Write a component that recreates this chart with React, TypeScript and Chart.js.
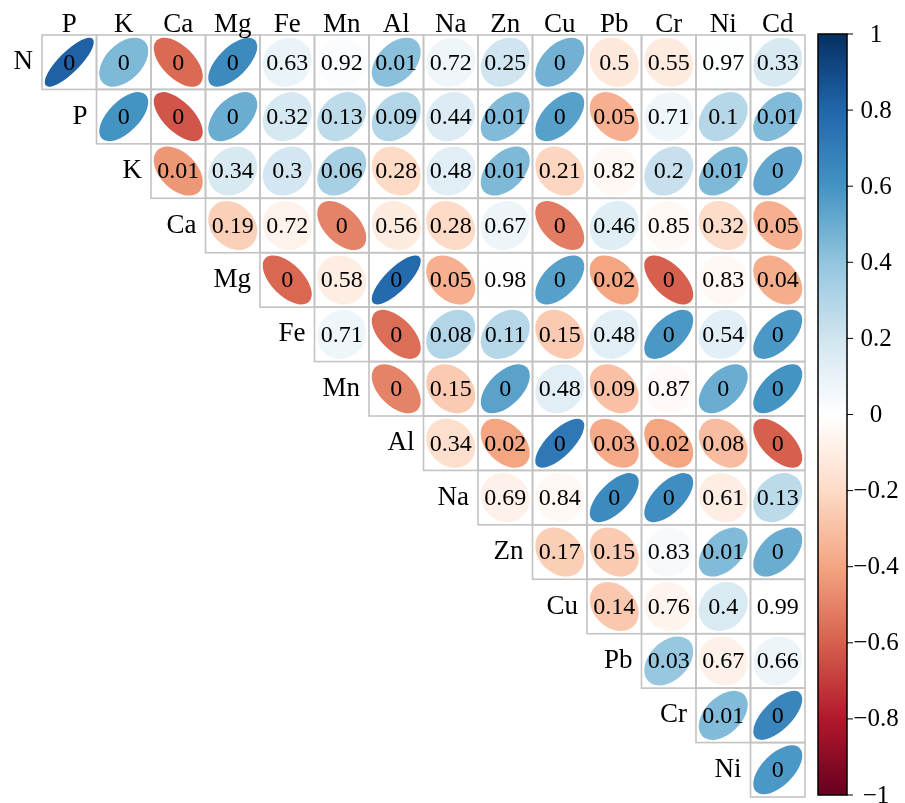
import React, { useEffect, useRef } from "react";
import { Chart, registerables } from "chart.js";

Chart.register(...registerables);

const rowLabels = ["N", "P", "K", "Ca", "Mg", "Fe", "Mn", "Al", "Na", "Zn", "Cu", "Pb", "Cr", "Ni"];
const colLabels = ["P", "K", "Ca", "Mg", "Fe", "Mn", "Al", "Na", "Zn", "Cu", "Pb", "Cr", "Ni", "Cd"];

// correlation coefficients per row; row i starts at column i
const corrN = [0.82, 0.45, -0.57, 0.64, 0.09, 0.02, 0.42, 0.07, 0.2, 0.48, -0.13, -0.11, 0.01, 0.17];
const corrP = [0.6, -0.63, 0.5, 0.18, 0.26, 0.3, 0.15, 0.44, 0.55, -0.36, 0.07, 0.29, 0.44];
const corrK = [-0.44, 0.17, 0.19, 0.33, -0.2, 0.13, 0.45, -0.22, -0.04, 0.23, 0.45, 0.52];
const corrCa = [-0.24, -0.07, -0.5, -0.11, -0.2, 0.08, -0.52, 0.14, -0.04, -0.19, -0.36];
const corrMg = [-0.58, -0.1, 0.78, -0.36, 0.004, 0.55, -0.4, -0.6, -0.04, -0.37];
const corrFe = [0.07, -0.56, 0.3, 0.29, -0.26, 0.13, 0.58, 0.12, 0.58];
const corrMn = [-0.5, -0.26, 0.54, 0.13, -0.3, -0.03, 0.5, 0.6];
const corrAl = [-0.18, -0.4, 0.72, -0.38, -0.4, -0.31, -0.6];
const corrNa = [-0.08, -0.04, 0.64, 0.62, -0.1, 0.27];
const corrZn = [-0.25, -0.26, 0.04, 0.44, 0.5];
const corrCu = [-0.27, -0.06, 0.16, 0.002];
const corrPb = [0.38, -0.08, 0.08];
const corrCr = [0.44, 0.66];
const corrNi = [0.58];

// p-value labels per row
const pN = ["0", "0", "0", "0", "0.63", "0.92", "0.01", "0.72", "0.25", "0", "0.5", "0.55", "0.97", "0.33"];
const pP = ["0", "0", "0", "0.32", "0.13", "0.09", "0.44", "0.01", "0", "0.05", "0.71", "0.1", "0.01"];
const pK = ["0.01", "0.34", "0.3", "0.06", "0.28", "0.48", "0.01", "0.21", "0.82", "0.2", "0.01", "0"];
const pCa = ["0.19", "0.72", "0", "0.56", "0.28", "0.67", "0", "0.46", "0.85", "0.32", "0.05"];
const pMg = ["0", "0.58", "0", "0.05", "0.98", "0", "0.02", "0", "0.83", "0.04"];
const pFe = ["0.71", "0", "0.08", "0.11", "0.15", "0.48", "0", "0.54", "0"];
const pMn = ["0", "0.15", "0", "0.48", "0.09", "0.87", "0", "0"];
const pAl = ["0.34", "0.02", "0", "0.03", "0.02", "0.08", "0"];
const pNa = ["0.69", "0.84", "0", "0", "0.61", "0.13"];
const pZn = ["0.17", "0.15", "0.83", "0.01", "0"];
const pCu = ["0.14", "0.76", "0.4", "0.99"];
const pPb = ["0.03", "0.67", "0.66"];
const pCr = ["0.01", "0"];
const pNi = ["0"];

const corrRows = [corrN, corrP, corrK, corrCa, corrMg, corrFe, corrMn, corrAl, corrNa, corrZn, corrCu, corrPb, corrCr, corrNi];
const pRows = [pN, pP, pK, pCa, pMg, pFe, pMn, pAl, pNa, pZn, pCu, pPb, pCr, pNi];

const colorbarTicks = [1, 0.8, 0.6, 0.4, 0.2, 0, -0.2, -0.4, -0.6, -0.8, -1];

// RdBu palette stops from -1 to 1
const rdbu = ["#67001F", "#B2182B", "#D6604D", "#F4A582", "#FDDBC7", "#FFFFFF", "#D1E5F0", "#92C5DE", "#4393C3", "#2166AC", "#053061"];

function hexToRgb(h: string) {
  const n = parseInt(h.slice(1), 16);
  return [(n >> 16) & 255, (n >> 8) & 255, n & 255];
}
function colorFor(r: number) {
  const t = ((Math.max(-1, Math.min(1, r)) + 1) / 2) * (rdbu.length - 1);
  const i = Math.min(rdbu.length - 2, Math.floor(t));
  const f = t - i;
  const a = hexToRgb(rdbu[i]);
  const b = hexToRgb(rdbu[i + 1]);
  const c = a.map((v, k) => Math.round(v + (b[k] - v) * f));
  return `rgb(${c[0]},${c[1]},${c[2]})`;
}

const SERIF = '"Liberation Serif", "Times New Roman", serif';

const corrPlugin = {
  id: "corrplot",
  afterDatasetsDraw(chart: any) {
    const { ctx, scales, chartArea } = chart;
    const xs = scales.x;
    const ys = scales.y;
    const cb = scales.cb;
    const cellW = xs.getPixelForValue(1) - xs.getPixelForValue(0);
    const cellH = ys.getPixelForValue(1) - ys.getPixelForValue(0);
    const s = cellW * 0.9;
    const data = chart.data.datasets[0].data as any[];
    ctx.save();
    // ellipses
    data.forEach((d) => {
      const cx = xs.getPixelForValue(d.x);
      const cy = ys.getPixelForValue(d.y);
      const r = d.r;
      ctx.beginPath();
      ctx.ellipse(cx, cy, (s * Math.sqrt(1 + r)) / 2, (s * Math.sqrt(1 - r)) / 2 + 0.01, -Math.PI / 4, 0, Math.PI * 2);
      ctx.fillStyle = colorFor(r);
      ctx.fill();
    });
    // grid
    ctx.strokeStyle = "#c3c3c3";
    ctx.lineWidth = 1.6;
    data.forEach((d) => {
      const x0 = xs.getPixelForValue(d.x - 0.5);
      const y0 = ys.getPixelForValue(d.y - 0.5);
      ctx.strokeRect(x0, y0, cellW, cellH);
    });
    // p-value text
    ctx.fillStyle = "#000";
    ctx.font = `24px ${SERIF}`;
    ctx.textAlign = "center";
    ctx.textBaseline = "middle";
    data.forEach((d) => {
      ctx.fillText(d.p, xs.getPixelForValue(d.x), ys.getPixelForValue(d.y) + 1);
    });
    // column labels
    ctx.font = `27px ${SERIF}`;
    ctx.textBaseline = "alphabetic";
    colLabels.forEach((lab, j) => {
      ctx.fillText(lab, xs.getPixelForValue(j), chartArea.top - 3);
    });
    // row labels
    ctx.textAlign = "right";
    ctx.textBaseline = "middle";
    rowLabels.forEach((lab, i) => {
      ctx.fillText(lab, xs.getPixelForValue(i - 0.5) - 9, ys.getPixelForValue(i));
    });
    // colorbar
    const bx = chartArea.right + 13;
    const bw = 29;
    const top = cb.getPixelForValue(1) - 1;
    const bot = cb.getPixelForValue(-1) - 2;
    const grad = ctx.createLinearGradient(0, bot, 0, top);
    rdbu.forEach((c, k) => grad.addColorStop(k / (rdbu.length - 1), c));
    ctx.fillStyle = grad;
    ctx.fillRect(bx, top, bw, bot - top);
    ctx.strokeStyle = "#000";
    ctx.lineWidth = 1.5;
    ctx.strokeRect(bx, top, bw, bot - top);
    ctx.lineWidth = 1;
    ctx.fillStyle = "#000";
    ctx.font = `25px ${SERIF}`;
    ctx.textAlign = "center";
    colorbarTicks.forEach((v) => {
      const y = top + ((1 - v) / 2) * (bot - top);
      ctx.beginPath();
      ctx.moveTo(bx + bw, y);
      ctx.lineTo(bx + bw + 6, y);
      ctx.stroke();
      const label = v === 0 ? "0" : (v < 0 ? "\u2212" : "") + String(Math.abs(v));
      ctx.fillText(label, bx + bw + 29, y + 1);
    });
    ctx.restore();
  },
};

export default function App() {
  const ref = useRef<HTMLCanvasElement | null>(null);
  useEffect(() => {
    document.body.style.margin = "0";
    const points: any[] = [];
    corrRows.forEach((row, i) => {
      row.forEach((r, k) => {
        points.push({ x: i + k, y: i, r, p: pRows[i][k] });
      });
    });
    const chart = new Chart(ref.current as HTMLCanvasElement, {
      type: "scatter",
      data: {
        datasets: [
          {
            data: points,
            pointRadius: 0,
            pointHoverRadius: 0,
          } as any,
        ],
      },
      options: {
        animation: false,
        responsive: false,
        devicePixelRatio: 1,
        events: [],
        layout: { padding: { left: 42, top: 35, right: 100, bottom: 6 } },
        plugins: { legend: { display: false }, tooltip: { enabled: false } },
        scales: {
          x: { type: "linear", min: -0.5, max: 13.5, display: false },
          y: { type: "linear", min: -0.5, max: 13.5, reverse: true, display: false },
          cb: { type: "linear", axis: "y", min: -1, max: 1, display: false },
        },
      } as any,
      plugins: [corrPlugin],
    });
    return () => chart.destroy();
  }, []);
  return (
    <div style={{ width: 905, height: 803 }}>
      <canvas ref={ref} width={905} height={803} style={{ display: "block" }} />
    </div>
  );
}
